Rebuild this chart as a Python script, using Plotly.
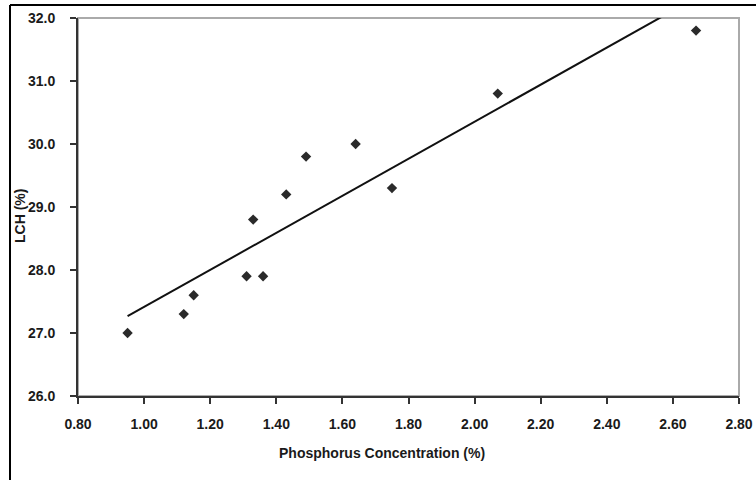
import numpy as np
import plotly.graph_objects as go

# Data
phosphorus = [0.95, 1.12, 1.15, 1.31, 1.33, 1.36, 1.43, 1.49, 1.64, 1.75, 2.07, 2.67]
lch = [27.0, 27.3, 27.6, 27.9, 28.8, 27.9, 29.2, 29.8, 30.0, 29.3, 30.8, 31.8]

x_ticks = [0.8, 1.0, 1.2, 1.4, 1.6, 1.8, 2.0, 2.2, 2.4, 2.6, 2.8]
y_ticks = [26, 27, 28, 29, 30, 31, 32]

# Linear trendline (least squares) from the data
slope, intercept = np.polyfit(phosphorus, lch, 1)
trend_x = [min(phosphorus), max(phosphorus)]
trend_y = [slope * v + intercept for v in trend_x]

FONT = "Liberation Sans"
TXT = "#1a1a1a"

fig = go.Figure()
fig.add_trace(go.Scatter(
    x=trend_x, y=trend_y, mode="lines",
    line=dict(color="#111111", width=2), showlegend=False, hoverinfo="skip"))
fig.add_trace(go.Scatter(
    x=phosphorus, y=lch, mode="markers",
    marker=dict(symbol="diamond", size=8, color="#2a2a2a"),
    showlegend=False, cliponaxis=False))

L, R, T, B = 78, 17, 18, 84
W, H = 756, 480
pw, ph = W - L - R, H - T - B

fig.update_layout(
    width=W, height=H,
    margin=dict(l=L, r=R, t=T, b=B, autoexpand=False),
    paper_bgcolor="white", plot_bgcolor="white",
    font=dict(family=FONT, size=14, color=TXT),
    xaxis=dict(
        range=[0.8, 2.8], tickvals=x_ticks,
        ticktext=[f"{v:.2f}" for v in x_ticks],
        showgrid=False, zeroline=False, automargin=False,
        showline=True, linecolor="#333333", linewidth=2,
        ticks="outside", ticklen=6, tickwidth=1.5, tickcolor="#333333",
        ticklabelstandoff=8,
        tickfont=dict(family=FONT, size=14, color=TXT, weight="bold"),
    ),
    yaxis=dict(
        range=[26, 32], tickvals=y_ticks,
        ticktext=[f"{v:.1f}" for v in y_ticks],
        showgrid=False, zeroline=False, automargin=False,
        showline=True, linecolor="#333333", linewidth=2,
        ticks="outside", ticklen=6, tickwidth=1.5, tickcolor="#333333",
        ticklabelstandoff=12,
        tickfont=dict(family=FONT, size=14, color=TXT, weight="bold"),
    ),
    shapes=[
        # light grey plot-area border (top/right)
        dict(type="rect", xref="paper", yref="paper", x0=0, y0=0, x1=1, y1=1,
             line=dict(color="#aaaaaa", width=2), layer="below"),
        # outer black frame (left and top edges)
        dict(type="line", xref="paper", yref="paper",
             x0=(10 - L) / pw, y0=1 + (T - 5) / ph, x1=1.05, y1=1 + (T - 5) / ph,
             line=dict(color="#000000", width=2)),
        dict(type="line", xref="paper", yref="paper",
             x0=(10 - L) / pw, y0=1 + (T - 5) / ph, x1=(10 - L) / pw, y1=-0.25,
             line=dict(color="#000000", width=2)),
    ],
    annotations=[
        dict(text="Phosphorus Concentration (%)", xref="paper", yref="paper",
             x=(382 - L) / pw, y=(H - B - 453) / ph, xanchor="center", yanchor="middle",
             showarrow=False, font=dict(family=FONT, size=14, color=TXT, weight="bold")),
        dict(text="LCH (%)", xref="paper", yref="paper",
             x=(20 - L) / pw, y=(H - B - 216) / ph, xanchor="center", yanchor="middle",
             textangle=-90, showarrow=False,
             font=dict(family=FONT, size=14, color=TXT, weight="bold")),
    ],
)

fig.write_html("out.html", config={"displayModeBar": False},
               post_script="document.body.style.margin='0';")
